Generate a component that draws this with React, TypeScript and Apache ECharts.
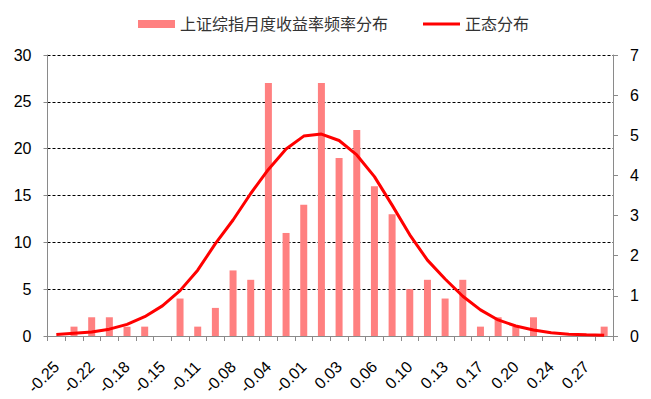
import React, { useEffect, useRef } from "react";
import * as echarts from "echarts";

const categories = [
  "-0.25", "-0.23", "-0.22", "-0.20", "-0.18", "-0.16", "-0.15", "-0.13",
  "-0.11", "-0.09", "-0.08", "-0.06", "-0.04", "-0.02", "-0.01", "0.01",
  "0.03", "0.04", "0.06", "0.08", "0.10", "0.11", "0.13", "0.15",
  "0.17", "0.18", "0.20", "0.22", "0.24", "0.25", "0.27", "0.29",
];

const frequency = [
  0, 1, 2, 2, 1, 1, 0, 4,
  1, 3, 7, 6, 27, 11, 14, 27,
  19, 22, 16, 13, 5, 6, 4, 6,
  1, 2, 1, 2, 0, 0, 0, 1,
];

const normalCurve = [
  0.04, 0.07, 0.1, 0.17, 0.29, 0.48, 0.75, 1.13,
  1.64, 2.3, 2.89, 3.55, 4.15, 4.66, 4.98, 5.03,
  4.87, 4.51, 3.97, 3.26, 2.52, 1.89, 1.42, 0.99,
  0.65, 0.4, 0.25, 0.15, 0.08, 0.045, 0.03, 0.02,
];

const leftTicks = { min: 0, max: 30, interval: 5 };
const rightTicks = { min: 0, max: 7, interval: 1 };

const barName = "上证综指月度收益率频率分布";
const lineName = "正态分布";

const FONT = '"Liberation Sans", Arial, "Noto Sans CJK SC", sans-serif';

export default function App() {
  const ref = useRef<HTMLDivElement>(null);
  useEffect(() => {
    if (!ref.current) return;
    const chart = echarts.init(ref.current, null, { renderer: "svg" });
    chart.setOption({
      animation: false,
      backgroundColor: "#ffffff",
      textStyle: { fontFamily: FONT },
      legend: [
        {
          data: [barName],
          left: 133,
          top: 11,
          itemWidth: 37,
          itemHeight: 8,
          itemGap: 5,
          icon: "rect",
          textStyle: { fontSize: 16, color: "#333", fontFamily: FONT },
        },
        {
          data: [lineName],
          left: 418,
          top: 11,
          itemWidth: 37,
          itemHeight: 3,
          icon: "rect",
          textStyle: { fontSize: 16, color: "#333", fontFamily: FONT },
        },
      ],
      grid: { left: 47.5, right: 38, top: 55, bottom: 63, containLabel: false },
      xAxis: {
        type: "category",
        data: categories,
        boundaryGap: true,
        axisLine: { show: true, lineStyle: { color: "#8a8a8a", width: 1 } },
        axisTick: { show: true, interval: 0, alignWithLabel: false, length: 5, lineStyle: { color: "#8a8a8a" } },
        axisLabel: {
          interval: 1,
          rotate: 45,
          margin: 28,
          fontSize: 16,
          color: "#000",
          fontFamily: FONT,
        },
        splitLine: { show: false },
      },
      yAxis: [
        {
          type: "value",
          ...leftTicks,
          axisLine: { show: true, lineStyle: { color: "#8a8a8a" } },
          axisTick: { show: true, length: 4, lineStyle: { color: "#8a8a8a" } },
          axisLabel: { fontSize: 16, color: "#000", margin: 16, fontFamily: FONT },
          splitLine: { show: true, lineStyle: { color: "#000", type: [3, 2], width: 1 } },
        },
        {
          type: "value",
          ...rightTicks,
          position: "right",
          axisLine: { show: true, lineStyle: { color: "#8a8a8a" } },
          axisTick: { show: true, length: 5, lineStyle: { color: "#8a8a8a" } },
          axisLabel: { fontSize: 16, color: "#000", margin: 17, fontFamily: FONT },
          splitLine: { show: false },
        },
      ],
      series: [
        {
          name: barName,
          type: "bar",
          data: frequency,
          yAxisIndex: 0,
          barWidth: 7,
          itemStyle: { color: "#ff8080" },
        },
        {
          name: lineName,
          type: "line",
          data: normalCurve,
          yAxisIndex: 1,
          symbol: "none",
          smooth: false,
          lineStyle: { color: "#ff0000", width: 3 },
          itemStyle: { color: "#ff0000" },
          z: 3,
        },
      ],
    });
    return () => chart.dispose();
  }, []);
  return (
    <div
      ref={ref}
      style={{ position: "fixed", left: 0, top: 0, width: 651, height: 399 }}
    />
  );
}
